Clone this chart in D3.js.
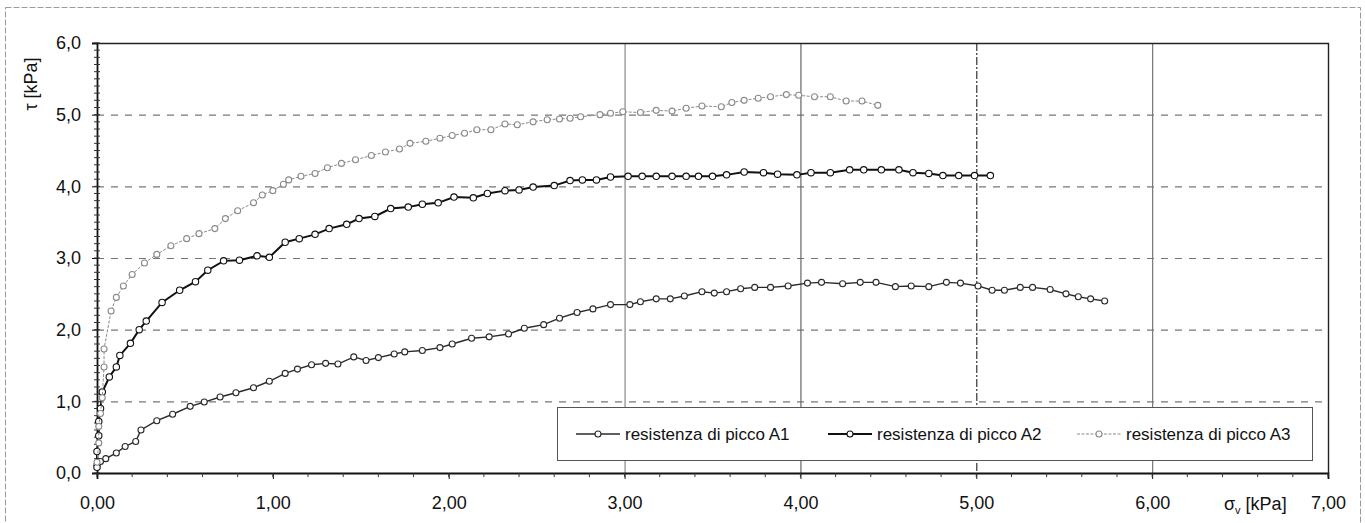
<!DOCTYPE html>
<html>
<head>
<meta charset="utf-8">
<script src="https://cdn.jsdelivr.net/npm/d3@7"></script>
<style>
  body { margin: 0; background: #fff; }
  text { font-family: "Liberation Sans", Arial, sans-serif; fill: #111; }
</style>
</head>
<body>
<svg id="chart"></svg>
<script>
// sigma_v [kPa] / tau [kPa]
var a1X = [0.00, 0.02, 0.05, 0.11, 0.16, 0.22, 0.25, 0.34, 0.43, 0.53, 0.61, 0.70, 0.79, 0.89, 0.98, 1.07,
  1.14, 1.22, 1.30, 1.37, 1.46, 1.53, 1.60, 1.69, 1.75, 1.85, 1.95, 2.02, 2.13, 2.23, 2.34, 2.43, 2.54,
  2.63, 2.73, 2.82, 2.92, 3.03, 3.09, 3.18, 3.26, 3.34, 3.44, 3.51, 3.58, 3.66, 3.74, 3.83, 3.93, 4.04,
  4.12, 4.24, 4.34, 4.43, 4.54, 4.63, 4.73, 4.83, 4.91, 5.01, 5.09, 5.16, 5.25, 5.32, 5.42, 5.51, 5.58, 5.65, 5.73];
var a1Y = [0.11, 0.16, 0.20, 0.28, 0.37, 0.44, 0.60, 0.73, 0.82, 0.93, 0.99, 1.06, 1.12, 1.19, 1.28, 1.39,
  1.45, 1.51, 1.53, 1.52, 1.62, 1.57, 1.61, 1.66, 1.69, 1.71, 1.75, 1.80, 1.88, 1.90, 1.94, 2.02, 2.07,
  2.16, 2.24, 2.29, 2.35, 2.35, 2.39, 2.43, 2.43, 2.47, 2.53, 2.51, 2.53, 2.57, 2.59, 2.59, 2.61, 2.65,
  2.66, 2.64, 2.66, 2.66, 2.60, 2.61, 2.60, 2.66, 2.65, 2.61, 2.55, 2.55, 2.59, 2.59, 2.56, 2.50, 2.46, 2.43, 2.40];

var a2X = [0.00, 0.00, 0.01, 0.01, 0.02, 0.03, 0.07, 0.11, 0.13, 0.19, 0.24, 0.28, 0.37, 0.47, 0.56, 0.63,
  0.72, 0.81, 0.91, 0.98, 1.07, 1.15, 1.24, 1.32, 1.42, 1.49, 1.58, 1.67, 1.77, 1.85, 1.94, 2.03, 2.14,
  2.22, 2.32, 2.40, 2.48, 2.60, 2.69, 2.76, 2.84, 2.92, 3.02, 3.10, 3.18, 3.27, 3.35, 3.42, 3.50, 3.58,
  3.68, 3.79, 3.87, 3.98, 4.06, 4.17, 4.28, 4.36, 4.46, 4.56, 4.64, 4.73, 4.81, 4.90, 4.99, 5.08];
var a2Y = [0.08, 0.30, 0.52, 0.72, 0.90, 1.13, 1.34, 1.48, 1.64, 1.81, 2.00, 2.12, 2.38, 2.55, 2.67, 2.83,
  2.96, 2.97, 3.03, 3.01, 3.22, 3.27, 3.33, 3.41, 3.47, 3.55, 3.58, 3.69, 3.71, 3.75, 3.77, 3.85, 3.84,
  3.90, 3.94, 3.95, 3.99, 4.01, 4.08, 4.09, 4.09, 4.13, 4.14, 4.14, 4.14, 4.14, 4.14, 4.14, 4.14, 4.16,
  4.20, 4.19, 4.17, 4.16, 4.19, 4.19, 4.23, 4.23, 4.23, 4.23, 4.19, 4.18, 4.15, 4.15, 4.15, 4.15];

var a3X = [0.00, 0.01, 0.01, 0.02, 0.03, 0.04, 0.04, 0.08, 0.11, 0.15, 0.20, 0.27, 0.34, 0.42, 0.51, 0.58,
  0.67, 0.73, 0.80, 0.89, 0.94, 1.00, 1.06, 1.09, 1.16, 1.24, 1.31, 1.39, 1.47, 1.56, 1.64, 1.72, 1.78,
  1.87, 1.95, 2.02, 2.09, 2.16, 2.24, 2.32, 2.39, 2.48, 2.56, 2.63, 2.69, 2.75, 2.86, 2.92, 2.99, 3.09,
  3.18, 3.27, 3.35, 3.44, 3.55, 3.61, 3.68, 3.76, 3.83, 3.92, 3.99, 4.08, 4.17, 4.26, 4.35, 4.44];
var a3Y = [0.15, 0.42, 0.65, 0.83, 1.05, 1.48, 1.73, 2.26, 2.45, 2.61, 2.77, 2.93, 3.05, 3.17, 3.27, 3.34,
  3.41, 3.55, 3.66, 3.77, 3.88, 3.94, 4.03, 4.09, 4.14, 4.18, 4.26, 4.32, 4.37, 4.43, 4.48, 4.52, 4.60,
  4.63, 4.67, 4.71, 4.74, 4.79, 4.79, 4.87, 4.86, 4.90, 4.93, 4.94, 4.95, 4.97, 5.00, 5.02, 5.04, 5.03,
  5.06, 5.05, 5.09, 5.12, 5.11, 5.17, 5.20, 5.23, 5.25, 5.28, 5.27, 5.25, 5.25, 5.19, 5.19, 5.13];

var seriesNames = ["resistenza di picco A1", "resistenza di picco A2", "resistenza di picco A3"];
var xTicks = [0, 1, 2, 3, 4, 5, 6, 7];
var yTicks = [0, 1, 2, 3, 4, 5, 6];

var W = 1365, H = 523;
var svg = d3.select("#chart").attr("width", W).attr("height", H);

var x = d3.scaleLinear().domain([0, 7]).range([97, 1328]);
var y = d3.scaleLinear().domain([0, 6]).range([473, 43]);

var it = d3.formatLocale({ decimal: ",", thousands: ".", grouping: [3], currency: ["", "€"] });
var fx = it.format(".2f"), fy = it.format(".1f");

function zip(xs, ys) { return xs.map(function (v, i) { return { x: v, y: ys[i] }; }); }
var series = [
  { name: seriesNames[0], data: zip(a1X, a1Y), stroke: "#2a2a2a", width: 1.4, dash: null, r: 3 },
  { name: seriesNames[1], data: zip(a2X, a2Y), stroke: "#111", width: 2, dash: null, r: 3.2 },
  { name: seriesNames[2], data: zip(a3X, a3Y), stroke: "#8a8a8a", width: 1, dash: "3,1.5", r: 3 }
];

// outer page frame of the scan
svg.append("rect").attr("x", 5.5).attr("y", 7.5).attr("width", 1355).attr("height", 530)
  .attr("fill", "none").attr("stroke", "#9a9a9a").attr("stroke-width", 1).attr("stroke-dasharray", "6,2");

// horizontal grid
svg.append("g").selectAll("line").data(yTicks.filter(function (d) { return d > 0 && d < 6; }))
  .enter().append("line")
  .attr("x1", x(0)).attr("x2", x(7))
  .attr("y1", function (d) { return y(d) + 0.5; }).attr("y2", function (d) { return y(d) + 0.5; })
  .attr("stroke", "#777").attr("stroke-width", 1.2).attr("stroke-dasharray", "7,7");

// vertical grid (only these show on the scan)
var vgrid = [
  { v: 3, dash: null, c: "#888" }, { v: 4, dash: null, c: "#666" },
  { v: 5, dash: "8,2,2,2", c: "#333" }, { v: 6, dash: null, c: "#777" }
];
svg.append("g").selectAll("line").data(vgrid).enter().append("line")
  .attr("x1", function (d) { return x(d.v) + 0.5; }).attr("x2", function (d) { return x(d.v) + 0.5; })
  .attr("y1", y(6)).attr("y2", y(0))
  .attr("stroke", function (d) { return d.c; }).attr("stroke-width", 1.2)
  .attr("stroke-dasharray", function (d) { return d.dash; });

// plot frame top / right
svg.append("path")
  .attr("d", "M" + x(0) + "," + (y(6) + 0.5) + "H" + (x(7) + 0.5) + "V" + y(0))
  .attr("fill", "none").attr("stroke", "#222").attr("stroke-width", 1.4);

// axes
var xAxis = svg.append("g").attr("transform", "translate(0," + y(0) + ")")
  .call(d3.axisBottom(x).tickValues(xTicks).tickFormat(fx).tickSize(6).tickPadding(17));
var yAxis = svg.append("g").attr("transform", "translate(" + x(0) + ",0)")
  .call(d3.axisLeft(y).tickValues(yTicks).tickFormat(fy).tickSize(5).tickPadding(11));
[xAxis, yAxis].forEach(function (g) {
  g.select(".domain").attr("stroke", "#111").attr("stroke-width", 1.8);
  g.selectAll(".tick line").attr("stroke", "#111");
  g.selectAll("text").style("font-size", "18px").attr("fill", "#111");
});

// minor ticks
var minorX = d3.range(0, 7.001, 0.2);
svg.append("g").selectAll("line").data(minorX).enter().append("line")
  .attr("x1", function (d) { return x(d); }).attr("x2", function (d) { return x(d); })
  .attr("y1", y(0)).attr("y2", y(0) + 4).attr("stroke", "#333");
var minorY = d3.range(0, 6.001, 0.1);
svg.append("g").selectAll("line").data(minorY).enter().append("line")
  .attr("x1", x(0) - 3).attr("x2", x(0) + 3)
  .attr("y1", function (d) { return y(d); }).attr("y2", function (d) { return y(d); })
  .attr("stroke", "#333");

// axis titles
svg.append("text").attr("transform", "translate(37,84) rotate(-90)")
  .attr("text-anchor", "middle").style("font-size", "18px").text("τ [kPa]");
var sx = svg.append("text").attr("x", 1224).attr("y", 510).style("font-size", "18px");
sx.append("tspan").text("σ");
sx.append("tspan").attr("dy", 4).style("font-size", "11px").text("v");
sx.append("tspan").attr("dy", -4).text(" [kPa]");

// series
var line = d3.line().x(function (d) { return x(d.x); }).y(function (d) { return y(d.y); });
var sg = svg.append("g").selectAll("g").data(series).enter().append("g");
sg.append("path")
  .attr("d", function (d) { return line(d.data); })
  .attr("fill", "none")
  .attr("stroke", function (d) { return d.stroke; })
  .attr("stroke-width", function (d) { return d.width; })
  .attr("stroke-dasharray", function (d) { return d.dash; });
sg.each(function (s) {
  d3.select(this).selectAll("circle").data(s.data).enter().append("circle")
    .attr("cx", function (d) { return x(d.x); })
    .attr("cy", function (d) { return y(d.y); })
    .attr("r", s.r)
    .attr("fill", "#fff")
    .attr("stroke", s.stroke)
    .attr("stroke-width", 1.1);
});

// legend
var legend = svg.append("g");
legend.append("rect").attr("x", 557.5).attr("y", 407.5).attr("width", 755).attr("height", 53)
  .attr("fill", "#fff").attr("stroke", "#555").attr("stroke-width", 1);
var legX = [576, 828, 1077];
var li = legend.selectAll("g.item").data(series).enter().append("g")
  .attr("transform", function (d, i) { return "translate(" + legX[i] + ",434)"; });
li.append("line").attr("x1", 0).attr("x2", 44).attr("y1", 0).attr("y2", 0)
  .attr("stroke", function (d) { return d.stroke; })
  .attr("stroke-width", function (d) { return d.width; })
  .attr("stroke-dasharray", function (d) { return d.dash; });
li.append("circle").attr("cx", 22).attr("cy", 0).attr("r", 3)
  .attr("fill", "#fff").attr("stroke", function (d) { return d.stroke; }).attr("stroke-width", 1.1);
li.append("text").attr("x", 49).attr("y", 6).style("font-size", "17px")
  .text(function (d) { return d.name; });
</script>
</body>
</html>
